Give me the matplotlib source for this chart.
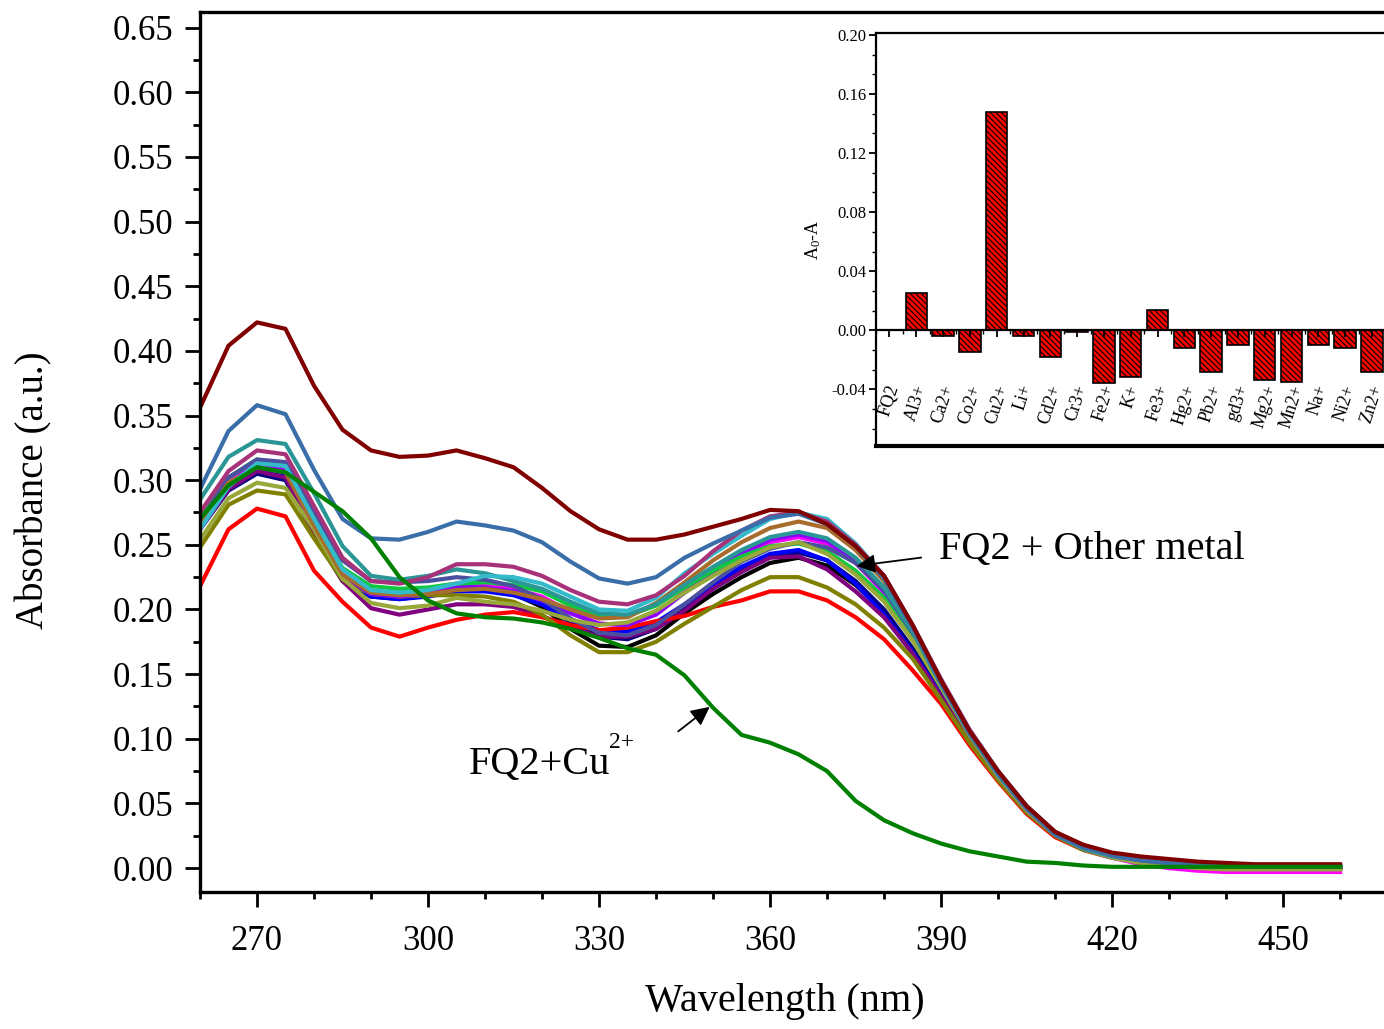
import matplotlib
matplotlib.use("Agg")
import matplotlib.pyplot as plt
from matplotlib.ticker import MultipleLocator, FormatStrFormatter
import numpy as np

plt.rcParams['font.family'] = ['Liberation Serif', 'DejaVu Serif']
plt.rcParams['mathtext.fontset'] = 'custom'
plt.rcParams['mathtext.rm'] = 'Liberation Serif'
plt.rcParams['mathtext.it'] = 'Liberation Serif:italic'
plt.rcParams['hatch.linewidth'] = 0.8

# 波长 (nm), 每 5 nm 一个点
wavelength = np.arange(260, 461, 5)

darkred = [0.356, 0.404, 0.422, 0.417, 0.373, 0.339, 0.323, 0.318, 0.319, 0.323,
           0.317, 0.310, 0.294, 0.276, 0.262, 0.254, 0.254, 0.258, 0.264, 0.270,
           0.277, 0.276, 0.266, 0.249, 0.226, 0.188, 0.145, 0.106, 0.075, 0.048,
           0.028, 0.018, 0.012, 0.009, 0.007, 0.005, 0.004, 0.003, 0.003, 0.003, 0.003]
steelblue = [0.293, 0.338, 0.358, 0.351, 0.308, 0.270, 0.255, 0.254, 0.260, 0.268,
             0.265, 0.261, 0.252, 0.237, 0.224, 0.220, 0.225, 0.240, 0.251, 0.261,
             0.271, 0.274, 0.266, 0.249, 0.224, 0.186, 0.143, 0.104, 0.073, 0.046,
             0.026, 0.016, 0.010, 0.006, 0.004, 0.003, 0.002, 0.002, 0.002, 0.001, 0.001]
teal = [0.285, 0.318, 0.331, 0.328, 0.290, 0.249, 0.226, 0.223, 0.226, 0.231,
        0.228, 0.222, 0.216, 0.206, 0.197, 0.196, 0.204, 0.219, 0.233, 0.246,
        0.256, 0.260, 0.255, 0.240, 0.217, 0.183, 0.142, 0.104, 0.072, 0.046,
        0.026, 0.015, 0.009, 0.006, 0.004, 0.003, 0.002, 0.001, 0.001, 0.001, 0.001]
red = [0.218, 0.262, 0.278, 0.272, 0.230, 0.206, 0.186, 0.179, 0.186, 0.192,
       0.196, 0.198, 0.194, 0.188, 0.184, 0.186, 0.191, 0.195, 0.202, 0.207,
       0.214, 0.214, 0.207, 0.194, 0.177, 0.153, 0.127, 0.095, 0.067, 0.042,
       0.024, 0.014, 0.008, 0.005, 0.003, 0.002, 0.001, 0.000, 0.000, 0.000, 0.000]
cu_green = [0.270, 0.296, 0.310, 0.306, 0.291, 0.276, 0.255, 0.225, 0.207, 0.197,
            0.194, 0.193, 0.190, 0.185, 0.178, 0.170, 0.165, 0.149, 0.124, 0.103,
            0.097, 0.088, 0.075, 0.052, 0.037, 0.027, 0.019, 0.013, 0.009, 0.005,
            0.004, 0.002, 0.001, 0.001, 0.001, 0.001, 0.001, 0.001, 0.001, 0.001, 0.001]
olive = [0.248, 0.281, 0.292, 0.289, 0.255, 0.223, 0.212, 0.210, 0.211, 0.211,
         0.210, 0.206, 0.196, 0.180, 0.167, 0.167, 0.175, 0.189, 0.202, 0.215,
         0.225, 0.225, 0.217, 0.204, 0.186, 0.162, 0.130, 0.097, 0.068, 0.043,
         0.025, 0.014, 0.008, 0.005, 0.003, 0.002, 0.001, 0.000, 0.000, 0.000, 0.000]
yellowgreen = [0.254, 0.286, 0.298, 0.294, 0.262, 0.224, 0.205, 0.201, 0.203, 0.209,
               0.206, 0.204, 0.199, 0.192, 0.188, 0.190, 0.199, 0.213, 0.226, 0.238,
               0.248, 0.252, 0.243, 0.227, 0.206, 0.176, 0.140, 0.103, 0.071, 0.045,
               0.026, 0.015, 0.008, 0.004, 0.002, 0.000, -0.001, -0.001, -0.001, -0.001, -0.001]
purple = [0.262, 0.293, 0.307, 0.302, 0.258, 0.222, 0.201, 0.196, 0.200, 0.204,
          0.204, 0.202, 0.195, 0.186, 0.179, 0.179, 0.185, 0.199, 0.216, 0.229,
          0.240, 0.241, 0.231, 0.214, 0.194, 0.166, 0.133, 0.099, 0.069, 0.044,
          0.025, 0.015, 0.009, 0.005, 0.003, 0.002, 0.001, 0.000, 0.000, 0.000, 0.000]
pink = [0.275, 0.307, 0.323, 0.320, 0.280, 0.240, 0.222, 0.220, 0.225, 0.235,
        0.235, 0.233, 0.226, 0.215, 0.206, 0.204, 0.211, 0.226, 0.245, 0.261,
        0.272, 0.275, 0.268, 0.250, 0.226, 0.188, 0.146, 0.107, 0.075, 0.048,
        0.028, 0.017, 0.010, 0.006, 0.004, 0.003, 0.002, 0.001, 0.001, 0.001, 0.001]
cyan = [0.262, 0.295, 0.313, 0.311, 0.270, 0.231, 0.215, 0.213, 0.215, 0.220,
        0.226, 0.225, 0.220, 0.210, 0.200, 0.199, 0.209, 0.228, 0.243, 0.257,
        0.270, 0.275, 0.270, 0.251, 0.226, 0.188, 0.146, 0.107, 0.075, 0.048,
        0.028, 0.017, 0.010, 0.006, 0.004, 0.003, 0.002, 0.001, 0.001, 0.001, 0.001]
brown = [0.265, 0.298, 0.310, 0.306, 0.265, 0.227, 0.213, 0.211, 0.212, 0.215,
         0.216, 0.213, 0.208, 0.200, 0.193, 0.194, 0.205, 0.221, 0.238, 0.252,
         0.263, 0.268, 0.263, 0.246, 0.222, 0.185, 0.143, 0.105, 0.073, 0.047,
         0.027, 0.016, 0.010, 0.006, 0.004, 0.003, 0.002, 0.001, 0.001, 0.001, 0.001]
violet = [0.265, 0.297, 0.312, 0.307, 0.264, 0.226, 0.212, 0.210, 0.212, 0.218,
          0.217, 0.214, 0.207, 0.197, 0.189, 0.188, 0.196, 0.213, 0.229, 0.243,
          0.254, 0.258, 0.253, 0.237, 0.214, 0.180, 0.141, 0.104, 0.072, 0.046,
          0.026, 0.016, 0.009, 0.005, 0.003, 0.002, 0.001, 0.000, 0.000, 0.000, 0.000]
magenta = [0.268, 0.300, 0.313, 0.308, 0.266, 0.228, 0.214, 0.213, 0.216, 0.220,
           0.219, 0.216, 0.210, 0.198, 0.189, 0.188, 0.197, 0.214, 0.229, 0.242,
           0.252, 0.256, 0.251, 0.236, 0.213, 0.179, 0.140, 0.103, 0.071, 0.045,
           0.026, 0.015, 0.008, 0.003, 0.000, -0.002, -0.003, -0.003, -0.003, -0.003, -0.003]
brightgreen = [0.270, 0.302, 0.316, 0.311, 0.270, 0.232, 0.218, 0.216, 0.217, 0.220,
               0.221, 0.219, 0.214, 0.203, 0.195, 0.195, 0.203, 0.217, 0.230, 0.241,
               0.249, 0.251, 0.245, 0.230, 0.209, 0.177, 0.140, 0.103, 0.072, 0.046,
               0.027, 0.017, 0.011, 0.007, 0.005, 0.004, 0.003, 0.002, 0.002, 0.002, 0.002]
slateblue = [0.268, 0.302, 0.316, 0.314, 0.276, 0.238, 0.222, 0.221, 0.222, 0.225,
             0.223, 0.218, 0.208, 0.193, 0.182, 0.180, 0.188, 0.204, 0.221, 0.237,
             0.247, 0.252, 0.248, 0.236, 0.215, 0.182, 0.143, 0.105, 0.073, 0.046,
             0.027, 0.016, 0.010, 0.006, 0.004, 0.003, 0.002, 0.001, 0.001, 0.001, 0.001]
blue = [0.265, 0.296, 0.309, 0.304, 0.262, 0.224, 0.210, 0.208, 0.210, 0.214,
        0.214, 0.211, 0.204, 0.192, 0.184, 0.183, 0.190, 0.204, 0.219, 0.233,
        0.243, 0.246, 0.238, 0.220, 0.196, 0.167, 0.134, 0.099, 0.069, 0.044,
        0.025, 0.015, 0.009, 0.005, 0.003, 0.002, 0.001, 0.001, 0.001, 0.001, 0.001]
navy = [0.262, 0.292, 0.305, 0.300, 0.258, 0.222, 0.210, 0.208, 0.211, 0.215,
        0.215, 0.212, 0.204, 0.190, 0.179, 0.177, 0.185, 0.200, 0.216, 0.230,
        0.241, 0.244, 0.238, 0.222, 0.200, 0.170, 0.136, 0.101, 0.070, 0.045,
        0.026, 0.015, 0.009, 0.005, 0.003, 0.002, 0.001, 0.001, 0.001, 0.001, 0.001]
black = [0.268, 0.298, 0.311, 0.305, 0.262, 0.223, 0.210, 0.209, 0.212, 0.216,
         0.216, 0.212, 0.202, 0.185, 0.172, 0.171, 0.180, 0.197, 0.212, 0.225,
         0.236, 0.240, 0.234, 0.219, 0.198, 0.169, 0.135, 0.100, 0.070, 0.044,
         0.025, 0.015, 0.009, 0.005, 0.003, 0.002, 0.001, 0.001, 0.001, 0.001, 0.001]

curves = [
    (black, '#000000'), (navy, '#000080'), (blue, '#0000FF'), (purple, '#800080'),
    (red, '#FF0000'), (olive, '#808000'), (magenta, '#FF00FF'), (violet, '#8C00FF'),
    (brightgreen, '#10C840'), (slateblue, '#4A4FA0'), (yellowgreen, '#99A83A'),
    (brown, '#A86C2C'), (teal, '#2A9696'), (cyan, '#33BBCC'), (pink, '#A8327A'),
    (steelblue, '#3A6EA8'), (darkred, '#800000'), (cu_green, '#008000'),
]

# 插图: A0-A
ions = ['FQ2', 'Al3+', 'Ca2+', 'Co2+', 'Cu2+', 'Li+', 'Cd2+', 'Cr3+', 'Fe2+', 'K+',
        'Fe3+', 'Hg2+', 'Pb2+', 'gd3+', 'Mg2+', 'Mn2+', 'Na+', 'Ni2+', 'Zn2+']
delta_a = [0.0, 0.025, -0.004, -0.015, 0.148, -0.004, -0.018, -0.001, -0.036, -0.032,
           0.014, -0.012, -0.028, -0.010, -0.034, -0.035, -0.010, -0.012, -0.028]

fig = plt.figure(figsize=(13.84, 10.29), dpi=100)
ax = fig.add_axes([0.1445, 0.1331, 0.8555, 0.8552])

for vals, c in curves:
    ax.plot(wavelength, vals, color=c, lw=3.0, solid_joinstyle='round')

ax.set_xlim(260, 467.7)
ax.set_ylim(-0.0185, 0.662)
ax.xaxis.set_minor_locator(MultipleLocator(10))
ax.set_xticks(np.arange(270, 451, 30))
ax.yaxis.set_major_locator(MultipleLocator(0.05))
ax.yaxis.set_minor_locator(MultipleLocator(0.025))
ax.yaxis.set_major_formatter(FormatStrFormatter('%.2f'))
ax.tick_params(which='major', direction='out', length=11, width=2, labelsize=25, pad=8)
ax.tick_params(which='minor', direction='out', length=5, width=2)
ax.tick_params(axis='x', which='major', pad=13)
for s in ['left', 'bottom', 'top']:
    ax.spines[s].set_linewidth(2.4)
ax.spines['right'].set_visible(False)

ax.set_ylabel('Absorbance (a.u.)', fontsize=28)
ax.yaxis.set_label_coords(-0.125, 0.457)
ax.set_xlabel('Wavelength (nm)', fontsize=29)
ax.xaxis.set_label_coords(0.494, -0.103)

ax.annotate('', xy=(374.7, 0.2334), xytext=(387.0, 0.2404),
            arrowprops=dict(arrowstyle='-|>', color='k', lw=1.3, mutation_scale=28))
ax.text(389.6, 0.2466, 'FQ2 + Other metal', fontsize=29, va='center', ha='left')
ax.annotate('', xy=(349.8, 0.126), xytext=(343.5, 0.1044),
            arrowprops=dict(arrowstyle='-|>', color='k', lw=1.3, mutation_scale=28))
ax.text(307.2, 0.080, 'FQ2+Cu', fontsize=29, va='center', ha='left')
ax.text(331.7, 0.0975, '2+', fontsize=17, va='center', ha='left')

# 插图
ins = fig.add_axes([0.633, 0.5666, 0.368, 0.4014])
x = np.arange(len(ions))
ins.bar(x, delta_a, width=0.8, color='#FF0000', edgecolor='k', lw=1.2,
        hatch='\\\\\\\\\\\\')
ins.set_xlim(-0.5, 18.5)
ins.set_ylim(-0.0784, 0.2014)
ins.yaxis.set_major_locator(MultipleLocator(0.04))
ins.yaxis.set_minor_locator(MultipleLocator(0.04 / 3))
ins.yaxis.set_major_formatter(FormatStrFormatter('%.2f'))
ins.set_xticks(x)
ins.set_xticklabels([])
ins.xaxis.set_minor_locator(MultipleLocator(0.5))
ins.spines['bottom'].set_position(('data', 0))
ins.spines['right'].set_visible(False)
for s in ['left', 'bottom', 'top']:
    ins.spines[s].set_linewidth(1.6)
ins.axhline(-0.0784, color='k', lw=3, clip_on=False)
ins.tick_params(which='major', direction='out', length=5, width=1.3, labelsize=12, pad=2)
ins.tick_params(which='minor', direction='out', length=3, width=1.0)
ins.set_ylabel('A$_0$-A', fontsize=13, labelpad=6)
for i, name in enumerate(ions):
    ins.text(i, -0.0355, name, rotation=72, ha='center', va='top', fontsize=13)

fig.savefig('out.png', dpi=100)
